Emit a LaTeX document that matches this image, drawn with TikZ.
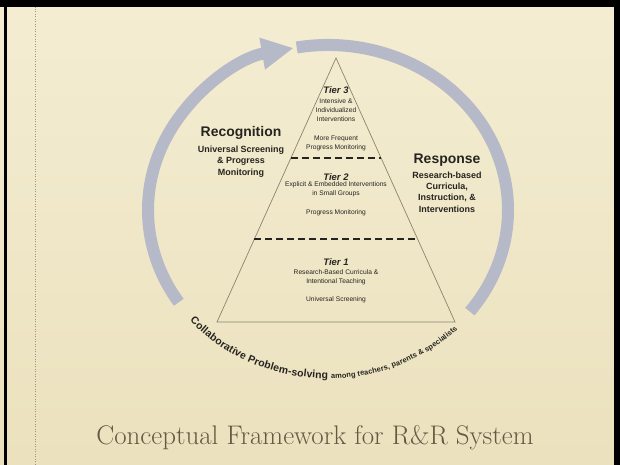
\documentclass[tikz,border=0pt]{standalone}
\usepackage{fontspec}
\newfontfamily\headfont{Liberation Sans}
\usetikzlibrary{arrows.meta,positioning,decorations.text,calc,shadings}

\definecolor{paper}{RGB}{244,237,210}
\definecolor{paperlow}{RGB}{235,225,190}
\definecolor{ringgray}{RGB}{182,185,199}
\definecolor{ink}{RGB}{38,36,32}
\definecolor{edgeline}{RGB}{140,131,110}
\definecolor{titleink}{RGB}{98,90,66}
\definecolor{rule}{RGB}{160,150,128}

\newcommand\bandbig{\headfont\bfseries\fontsize{10.5}{12}\selectfont\color{ink}}
\newcommand\bandsmall{\headfont\bfseries\fontsize{7.5}{9}\selectfont\color{ink}}

\begin{document}
\begin{tikzpicture}[x=1bp, y=1bp, node distance=6bp,
  lbl/.style={font=\headfont\fontsize{6.7}{9}\selectfont, text=ink, align=center, inner sep=0pt},
  tier/.style={font=\headfont\bfseries\itshape\fontsize{9.5}{10}\selectfont, text=ink, inner sep=0pt},
  side/.style={font=\headfont\bfseries\fontsize{14}{15}\selectfont, text=ink, inner sep=0pt},
  sub/.style={font=\headfont\bfseries\fontsize{9}{11.4}\selectfont, text=ink, align=center, inner sep=0pt},
  cut/.style={draw=ink, line width=1.8bp, dash pattern=on 7bp off 4bp},
  band/.style={draw=ringgray, line width=12bp}]
\useasboundingbox (0,0) rectangle (620,465);
\fill[top color=paper, bottom color=paperlow] (0,0) rectangle (620,465);
\fill[black] (0,458) rectangle (620,465);
\fill[black] (4,0) rectangle (7,465);
\fill[black] (614,0) rectangle (620,465);
\draw[rule, line width=0.8bp, dash pattern=on 1bp off 1.5bp] (35,0) -- (35,458);

\coordinate (hub) at (328,255);
\draw[band] ($(hub)+(100:180 and 165)$) arc[start angle=100, end angle=-38, x radius=180, y radius=165];
\draw[band, -{Triangle[length=32bp,width=30bp]}] ($(hub)+(-146:180 and 165)$) arc[start angle=-146, end angle=-259, x radius=180, y radius=165];
\path[decorate, decoration={text along path, text align=center, raise=-3.5bp,
  text={|\bandbig|Collaborative Problem-solving |\bandsmall|among teachers, parents {\&} specialists}}]
  ($(hub)+(-146:180 and 165)$) arc[start angle=-146, end angle=-38, x radius=180, y radius=165];

\coordinate (top) at (336,407);
\coordinate (bl) at (217,143);
\coordinate (br) at (455,143);
\draw[edgeline, line width=0.7bp] (top) -- (bl) -- (br) -- cycle;
\draw[cut] ($(top)!0.379!(bl)$) -- ($(top)!0.379!(br)$);
\draw[cut] ($(top)!0.686!(bl)$) -- ($(top)!0.686!(br)$);

\node[tier] (tier3) at (336,375) {Tier 3};
\node[lbl] (focus3) at (336,355) {Intensive \&\\Individualized\\Interventions};
\node[lbl] (watch3) at (336,322) {More Frequent\\Progress Monitoring};
\node[tier] (tier2) at (336,288) {Tier 2};
\node[lbl] (focus2) at (336,275.5) {Explicit \& Embedded Interventions\\in Small Groups};
\node[lbl] (watch2) at (336,252.5) {Progress Monitoring};
\node[tier] (tier1) at (336,202.5) {Tier 1};
\node[lbl] (focus1) at (336,187.5) {Research-Based Curricula \&\\Intentional Teaching};
\node[lbl] (watch1) at (336,165) {Universal Screening};

\node[side] (recog) at (241,332) {Recognition};
\node[sub, below=6bp of recog] (recogtxt) {Universal Screening\\\& Progress\\Monitoring};
\node[side] (resp) at (447,305) {Response};
\node[sub, below=5bp of resp] (resptxt) {Research-based\\Curricula,\\Instruction, \&\\Interventions};

\node[font=\fontsize{27}{32}\selectfont, text=titleink] (title) at (315,27) {Conceptual Framework for R\&R System};
\end{tikzpicture}
\end{document}
